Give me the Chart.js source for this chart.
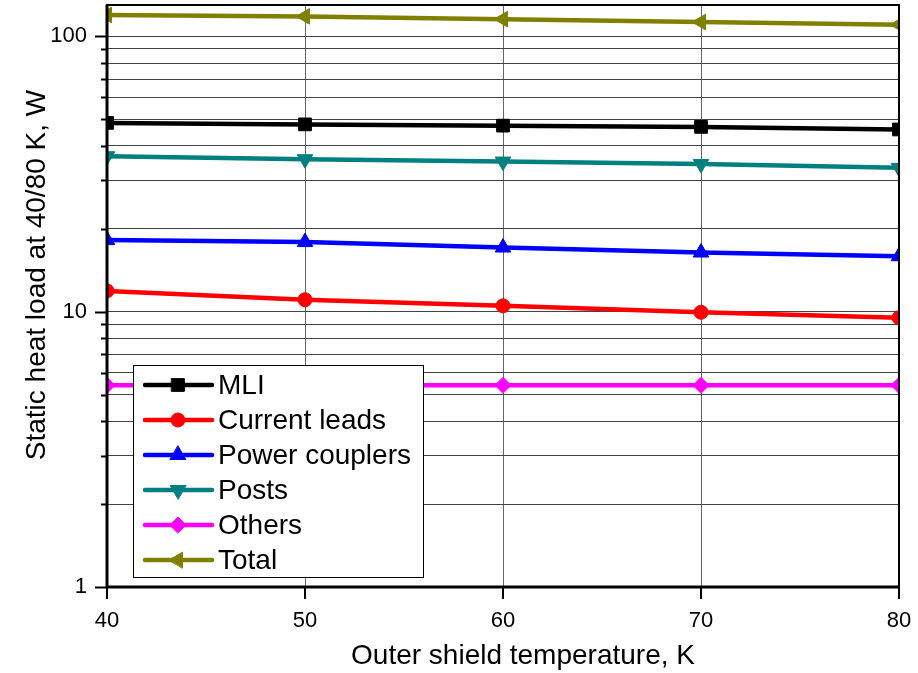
<!DOCTYPE html>
<html>
    <head>
        <meta charset="UTF-8">
        <title>Static heat load vs outer shield temperature</title>
        <script src="https://cdn.jsdelivr.net/npm/chart.js"></script>
        <style>
            body { margin: 0; background: #fff; }
            #wrap { width: 918px; height: 673px; position: relative; }
        </style>
    </head>
    <body>
        <div id="wrap"><canvas id="heatChart"></canvas></div>
        <script>
            // values
            const temperatures = [40, 50, 60, 70, 80];
            const mli = [48.5, 47.9, 47.4, 46.9, 45.9];
            const currentLeads = [11.9, 11.05, 10.5, 9.95, 9.5];
            const powerCouplers = [18.2, 17.9, 17.1, 16.4, 15.9];
            const posts = [36.7, 35.8, 35.1, 34.4, 33.3];
            const others = [5.4, 5.4, 5.4, 5.4, 5.4];
            const total = [119.5, 118.2, 115.5, 112.7, 110.3];

            const yTickValues = [1, 2, 3, 4, 5, 6, 7, 8, 9, 10, 20, 30, 40, 50, 60, 70, 80, 90, 100];
            const yLabelled = [1, 10, 100];

            const FONT = '"Liberation Sans", Arial, sans-serif';

            function series(label, values, color, pointStyle, radius, rotation) {
                return {
                    label: label,
                    data: values.map((v, i) => ({ x: temperatures[i], y: v })),
                    borderColor: color,
                    backgroundColor: color,
                    borderWidth: 4.5,
                    pointStyle: pointStyle,
                    pointRadius: radius,
                    pointHoverRadius: radius,
                    pointRotation: rotation || 0,
                    pointBorderWidth: 1,
                    tension: 0
                };
            }

            const datasets = [
                series('MLI', mli, '#000000', 'rect', 9),
                series('Current leads', currentLeads, '#ff0000', 'circle', 7),
                series('Power couplers', powerCouplers, '#0000ff', 'triangle', 9),
                series('Posts', posts, '#008080', 'triangle', 9, 180),
                series('Others', others, '#ff00ff', 'rectRot', 8),
                series('Total', total, '#808000', 'triangle', 9, 270)
            ];

            function noPadding(scale) {
                scale.paddingTop = 0;
                scale.paddingBottom = 0;
                scale.paddingLeft = 0;
                scale.paddingRight = 0;
            }

            // frame, tick marks, axis titles and the in-plot legend
            const decorations = {
                id: 'decorations',
                afterDatasetsDraw(chart) {
                    const ctx = chart.ctx;
                    const area = chart.chartArea;
                    const xs = chart.scales.x;
                    const ys = chart.scales.y;
                    ctx.save();

                    // ticks
                    ctx.strokeStyle = '#000';
                    ctx.lineWidth = 2;
                    for (let t of ys.ticks) {
                        const y = Math.round(ys.getPixelForValue(t.value)) + 0.5;
                        const len = yLabelled.includes(t.value) ? 12 : 6;
                        ctx.beginPath();
                        ctx.moveTo(area.left - len, y);
                        ctx.lineTo(area.left, y);
                        ctx.stroke();
                    }
                    for (let t of xs.ticks) {
                        const x = Math.round(xs.getPixelForValue(t.value));
                        ctx.beginPath();
                        ctx.moveTo(x, area.bottom);
                        ctx.lineTo(x, area.bottom + 12);
                        ctx.stroke();
                    }

                    // frame
                    ctx.lineWidth = 2;
                    ctx.strokeRect(area.left, area.top, area.right - area.left, area.bottom - area.top);
                    ctx.lineWidth = 3;
                    ctx.beginPath();
                    ctx.moveTo(area.left, area.top);
                    ctx.lineTo(area.left, area.bottom);
                    ctx.lineTo(area.right, area.bottom);
                    ctx.stroke();

                    // legend
                    const bx = 133, by = 365, bw = 290, bh = 212;
                    ctx.fillStyle = '#fff';
                    ctx.fillRect(bx, by, bw, bh);
                    ctx.lineWidth = 1;
                    ctx.strokeStyle = '#000';
                    ctx.strokeRect(bx + 0.5, by + 0.5, bw, bh);
                    ctx.font = '28px ' + FONT;
                    ctx.textBaseline = 'middle';
                    ctx.textAlign = 'left';
                    chart.data.datasets.forEach((ds, i) => {
                        const y = by + 20 + i * 35;
                        ctx.strokeStyle = ds.borderColor;
                        ctx.lineWidth = ds.borderWidth;
                        ctx.lineCap = 'round';
                        ctx.beginPath();
                        ctx.moveTo(bx + 12, y);
                        ctx.lineTo(bx + 79, y);
                        ctx.stroke();
                        ctx.fillStyle = ds.backgroundColor;
                        ctx.lineWidth = 1;
                        Chart.helpers.drawPoint(ctx, {
                            pointStyle: ds.pointStyle,
                            rotation: ds.pointRotation,
                            radius: ds.pointRadius,
                            borderWidth: 1
                        }, bx + 45, y);
                        ctx.fillStyle = '#000';
                        ctx.fillText(ds.label, bx + 85, y + 1);
                    });

                    // axis titles
                    ctx.fillStyle = '#000';
                    ctx.font = '28px ' + FONT;
                    ctx.textAlign = 'center';
                    ctx.textBaseline = 'middle';
                    ctx.fillText('Outer shield temperature, K', 523, 656);
                    ctx.translate(37, 275);
                    ctx.rotate(-Math.PI / 2);
                    ctx.fillText('Static heat load at 40/80 K, W', 0, 0);
                    ctx.restore();
                }
            };

            new Chart(document.getElementById('heatChart'), {
                type: 'line',
                data: { datasets: datasets },
                options: {
                    responsive: true,
                    maintainAspectRatio: false,
                    animation: false,
                    layout: { autoPadding: false, padding: { left: 0, right: 19, top: 5, bottom: 0 } },
                    plugins: {
                        legend: { display: false },
                        tooltip: { enabled: false }
                    },
                    scales: {
                        x: {
                            type: 'linear',
                            min: 40,
                            max: 80,
                            border: { display: false },
                            grid: { color: '#666', lineWidth: 1, drawTicks: false },
                            ticks: {
                                stepSize: 10,
                                padding: 21,
                                color: '#000',
                                font: { family: FONT, size: 22 }
                            },
                            afterFit(scale) { scale.height = 86; noPadding(scale); }
                        },
                        y: {
                            type: 'logarithmic',
                            min: 1,
                            max: 130,
                            border: { display: false },
                            grid: { color: '#444', lineWidth: 1, drawTicks: false },
                            afterBuildTicks(scale) {
                                scale.ticks = yTickValues.map(v => ({ value: v }));
                            },
                            ticks: {
                                autoSkip: false,
                                padding: 20,
                                color: '#000',
                                font: { family: FONT, size: 22 },
                                callback: (v) => yLabelled.includes(v) ? String(v) : ''
                            },
                            afterFit(scale) { scale.width = 107; noPadding(scale); }
                        }
                    }
                },
                plugins: [decorations]
            });
        </script>
    </body>
</html>
